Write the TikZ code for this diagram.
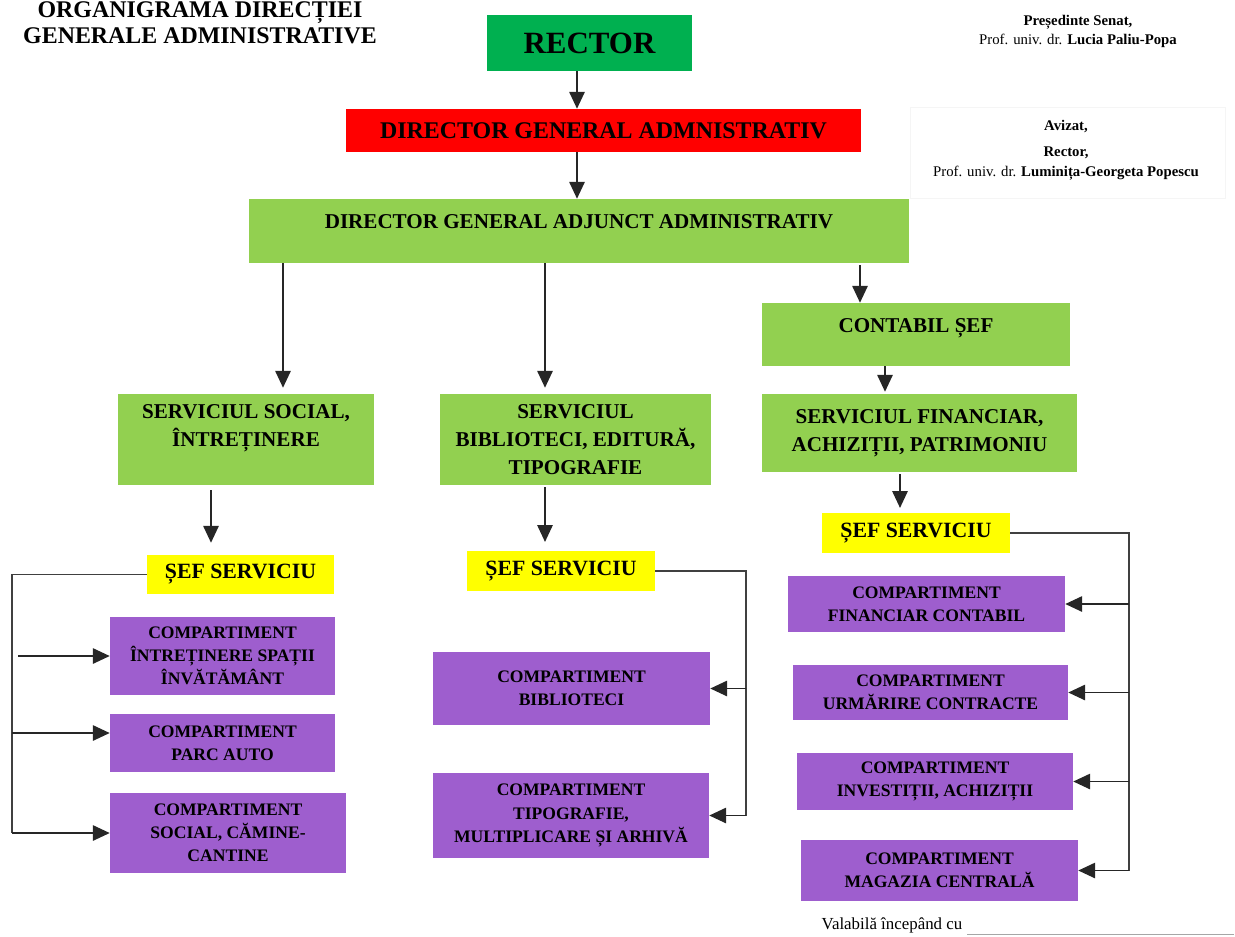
\documentclass[tikz,border=0pt]{standalone}
\usepackage{fontspec}
\setmainfont{Liberation Serif}
\usetikzlibrary{arrows.meta}
\definecolor{lgreen}{HTML}{92D050}
\definecolor{dgreen}{HTML}{00B050}
\definecolor{lpurple}{HTML}{9E5ECE}
\definecolor{lyellow}{HTML}{FFFF00}
\definecolor{lred}{HTML}{FF0000}

\begin{document}
\begin{tikzpicture}[x=0.025cm, y=-0.025cm,
    sz/.style 2 args={minimum width=#1*0.025cm, minimum height=#2*0.025cm},
    base/.style={rectangle, inner sep=0pt, align=center},
    serv/.style={base, fill=lgreen, font=\bfseries\fontsize{15}{20}\selectfont},
    sefbox/.style={base, fill=lyellow, font=\bfseries\fontsize{15.5}{19}\selectfont},
    comp/.style={base, fill=lpurple, font=\bfseries\fontsize{12.5}{16.5}\selectfont},
    arrow/.style={-{Triangle[length=12pt, width=11pt]}, line width=1pt, draw=black!85},
    link/.style={line width=1pt, draw=black!75}
]
\useasboundingbox (0,0) rectangle (1235,936);

% Title and signatures
\node[font=\bfseries\fontsize{17}{18.5}\selectfont, align=center] (title) at (200,23)
{ORGANIGRAMA DIRECȚIEI\\ GENERALE ADMINISTRATIVE};

\node[font=\fontsize{10.5}{13.5}\selectfont, align=center] (senat) at (1078,31)
{\textbf{Președinte Senat,}\\ Prof. univ. dr. \textbf{Lucia Paliu-Popa}};

\draw[black!4] (910,107) rectangle (1225,198);
\node[font=\fontsize{10.5}{14}\selectfont, align=center] (avizat) at (1066,150)
{\textbf{Avizat,}\\[4.5pt] \textbf{Rector,}\\ Prof. univ. dr. \textbf{Luminița-Georgeta Popescu}};

% Main chain
\node[base, fill=dgreen, sz={205}{56}, font=\bfseries\fontsize{22}{26}\selectfont] (rector) at (589.5,43) {RECTOR};
\node[base, fill=lred, sz={515}{43}, font=\bfseries\fontsize{17}{20}\selectfont] (dga) at (603.5,130.5) {DIRECTOR GENERAL ADMNISTRATIV};
\node[serv, sz={660}{64}, text depth=12.8pt] (dgaa) at (579,231) {DIRECTOR GENERAL ADJUNCT ADMINISTRATIV};

\draw[arrow] (rector.south -| 577,0) -- (dga.north -| 577,0);
\draw[arrow] (dga.south -| 577,0) -- (dgaa.north -| 577,0);

% Services
\node[serv, sz={308}{63}, text depth=13.5pt] (contabil) at (916,334.5) {CONTABIL ȘEF};
\node[serv, sz={256}{91}, text depth=20pt] (social) at (246,439.5) {SERVICIUL SOCIAL,\\ ÎNTREȚINERE};
\node[serv, sz={271}{91}] (biblio) at (575.5,439.5) {SERVICIUL\\ BIBLIOTECI, EDITURĂ,\\ TIPOGRAFIE};
\node[serv, sz={315}{78}] (financiar) at (919.5,433) {SERVICIUL FINANCIAR,\\ ACHIZIȚII, PATRIMONIU};

\draw[arrow, shorten >=0.15cm] (dgaa.south -| 283,0) -- (social.north -| 283,0);
\draw[arrow, shorten >=0.15cm] (dgaa.south -| 545,0) -- (biblio.north -| 545,0);
\draw[arrow, shorten <=0.05cm] (dgaa.south -| 860,0) -- (contabil.north -| 860,0);
\draw[arrow, shorten >=0.05cm] (contabil.south -| 885,0) -- (financiar.north -| 885,0);

% Heads of service
\node[sefbox, sz={187}{39}] (sefA) at (240.5,574.5) {ȘEF SERVICIU};
\node[sefbox, sz={188}{40}] (sefB) at (561,571) {ȘEF SERVICIU};
\node[sefbox, sz={188}{40}] (sefC) at (916,533) {ȘEF SERVICIU};

\draw[arrow, shorten <=0.12cm, shorten >=0.3cm] (social.south -| 211,0) -- (sefA.north -| 211,0);
\draw[arrow, shorten <=0.05cm, shorten >=0.22cm] (biblio.south -| 545,0) -- (sefB.north -| 545,0);
\draw[arrow, shorten <=0.05cm, shorten >=0.12cm] (financiar.south -| 900,0) -- (sefC.north -| 900,0);

% Compartments
\node[comp, sz={225}{78}] (ca1) at (222.5,656) {COMPARTIMENT\\ ÎNTREȚINERE SPAȚII\\ ÎNVĂTĂMÂNT};
\node[comp, sz={225}{58}] (ca2) at (222.5,743) {COMPARTIMENT\\ PARC AUTO};
\node[comp, sz={236}{80}] (ca3) at (228,833) {COMPARTIMENT\\ SOCIAL, CĂMINE-\\ CANTINE};

\node[comp, sz={277}{73}] (cb1) at (571.5,688.5) {COMPARTIMENT\\ BIBLIOTECI};
\node[comp, sz={276}{85}] (cb2) at (571,815.5) {COMPARTIMENT\\ TIPOGRAFIE,\\ MULTIPLICARE ȘI ARHIVĂ};

\node[comp, sz={277}{56}] (cc1) at (926.5,604) {COMPARTIMENT\\ FINANCIAR CONTABIL};
\node[comp, sz={275}{55}] (cc2) at (930.5,692.5) {COMPARTIMENT\\ URMĂRIRE CONTRACTE};
\node[comp, sz={276}{57}] (cc3) at (935,781.5) {COMPARTIMENT\\ INVESTIȚII, ACHIZIȚII};
\node[comp, sz={277}{61}] (cc4) at (939.5,870.5) {COMPARTIMENT\\ MAGAZIA CENTRALĂ};

\coordinate (barA) at (12,0);
\coordinate (barB) at (746,0);
\coordinate (barC) at (1129,0);

\draw[link] (sefA.west) -| (barA |- ca3.west);
\draw[arrow] ([xshift=0.15cm]barA |- ca1.west) -- (ca1.west);
\draw[arrow] ([yshift=0.25cm]barA |- ca2.west) -- ([yshift=0.25cm]ca2.west);
\draw[arrow] (barA |- ca3.west) -- (ca3.west);

\draw[link] (sefB.east) -| (barB |- cb2.east);
\draw[arrow] (barB |- cb1.east) -- (cb1.east);
\draw[arrow] (barB |- cb2.east) -- (cb2.east);

\draw[link] (sefC.east) -| (barC |- cc4.east);
\foreach \c in {cc1, cc2, cc3, cc4}
  \draw[arrow] (barC |- \c.east) -- (\c.east);

% Footer
\node[font=\fontsize{12}{14}\selectfont] (valid) at (892,925) {Valabilă începând cu};
\draw[black!35] (valid.east |- 0,934) -- (1234,934);

\end{tikzpicture}
\end{document}
